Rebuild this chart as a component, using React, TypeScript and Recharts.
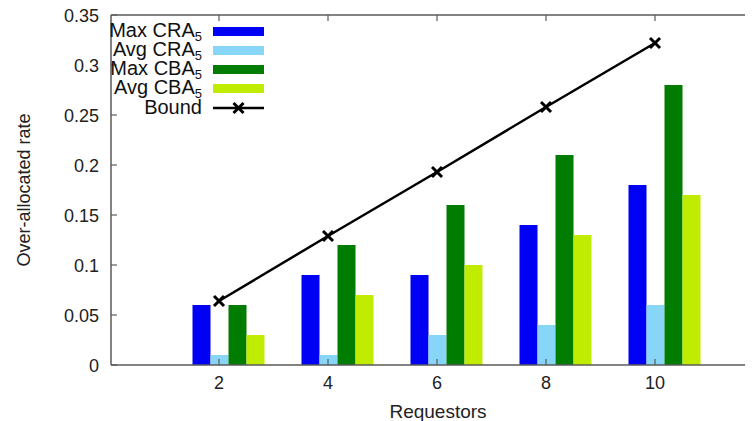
import React from 'react';
import { ComposedChart, Bar, Line, XAxis, YAxis, ReferenceLine } from 'recharts';

const requestors = ['2', '4', '6', '8', '10'];
const maxCRA = [0.06, 0.09, 0.09, 0.14, 0.18];
const avgCRA = [0.01, 0.01, 0.03, 0.04, 0.06];
const maxCBA = [0.06, 0.12, 0.16, 0.21, 0.28];
const avgCBA = [0.03, 0.07, 0.1, 0.13, 0.17];
const bound = [0.064, 0.129, 0.193, 0.258, 0.322];
const yTicks = [0, 0.05, 0.1, 0.15, 0.2, 0.25, 0.3, 0.35];

const barSeries = [
  { key: 'maxCRA', name: 'Max CRA', color: '#0000f5' },
  { key: 'avgCRA', name: 'Avg CRA', color: '#87d6f8' },
  { key: 'maxCBA', name: 'Max CBA', color: '#007d00' },
  { key: 'avgCBA', name: 'Avg CBA', color: '#bfec00' },
];

const data = requestors.map((n, i) => ({
  n,
  maxCRA: maxCRA[i],
  avgCRA: avgCRA[i],
  maxCBA: maxCBA[i],
  avgCBA: avgCBA[i],
  bound: bound[i],
}));

const FONT = '"Liberation Sans", Arial, sans-serif';
const FRAME = '#5a5a5a';
const PLOT_TOP = 7;

function Cross({ cx, cy, size = 5 }: any) {
  if (cx == null || cy == null) return null;
  return (
    <g stroke="#000" strokeWidth={3} strokeLinecap="butt">
      <line x1={cx - size} y1={cy - size} x2={cx + size} y2={cy + size} />
      <line x1={cx - size} y1={cy + size} x2={cx + size} y2={cy - size} />
    </g>
  );
}

function XTick({ x, y, payload }: any) {
  return (
    <g>
      <line x1={x} y1={y} x2={x} y2={y - 6} stroke={FRAME} strokeWidth={1.2} />
      <line x1={x} y1={PLOT_TOP} x2={x} y2={PLOT_TOP + 6} stroke={FRAME} strokeWidth={1.2} />
      <text x={x} y={y + 24} textAnchor="middle" fontSize={18} fontFamily={FONT} fill="#222">
        {payload.value}
      </text>
    </g>
  );
}

function YTick({ x, y, payload }: any) {
  return (
    <g>
      <line x1={x} y1={y} x2={x + 6} y2={y} stroke={FRAME} strokeWidth={1.2} />
      <text x={x - 12} y={y + 6.5} textAnchor="end" fontSize={18} fontFamily={FONT} fill="#222">
        {String(payload.value)}
      </text>
    </g>
  );
}

function LegendBox() {
  const row = { display: 'flex', alignItems: 'center', height: 19, lineHeight: '19px' } as const;
  return (
    <div style={{ position: 'absolute', left: 0, top: 14, fontFamily: FONT, fontSize: 20, color: '#111' }}>
      {barSeries.map((s) => (
        <div key={s.key} style={row}>
          <span style={{ width: 194, textAlign: 'right', whiteSpace: 'nowrap' }}>
            {s.name}
            <span style={{ fontSize: 13, position: 'relative', top: 4 }}>5</span>
          </span>
          <span style={{ width: 51, height: 9, marginLeft: 11, background: s.color }} />
        </div>
      ))}
      <div style={row}>
        <span style={{ width: 194, textAlign: 'right' }}>Bound</span>
        <svg width={51} height={14} style={{ marginLeft: 11 }}>
          <line x1={0} y1={7} x2={51} y2={7} stroke="#000" strokeWidth={2.5} />
          <Cross cx={25.5} cy={7} />
        </svg>
      </div>
    </div>
  );
}

export default function App() {
  return (
    <div style={{ position: 'relative', width: 745, height: 413 }}>
      <ComposedChart
        width={745}
        height={413}
        data={data}
        margin={{ top: PLOT_TOP, right: 0, bottom: 0, left: 0 }}
        barGap={0}
        barCategoryGap={18.5}
      >
        <XAxis
          xAxisId="line"
          dataKey="n"
          height={56}
          padding={{ left: 53.5, right: 43.5 }}
          axisLine={{ stroke: FRAME, strokeWidth: 1.5 }}
          tickLine={false}
          tickSize={0}
          tickMargin={0}
          tick={<XTick />}
          interval={0}
          label={{
            content: ({ viewBox }: any) => (
              <text
                x={viewBox.x + viewBox.width / 2 + 6}
                y={410}
                textAnchor="middle"
                fontSize={19}
                fontFamily={FONT}
                fill="#222"
              >
                Requestors
              </text>
            ),
          }}
        />
        <XAxis xAxisId="bars" dataKey="n" hide height={0} padding={{ left: 63, right: 34 }} />
        <YAxis
          width={103}
          domain={[0, 0.35]}
          ticks={yTicks}
          allowDataOverflow
          axisLine={{ stroke: FRAME, strokeWidth: 1.5 }}
          tickLine={false}
          tickSize={0}
          tickMargin={0}
          tick={<YTick />}
          interval={0}
          label={{
            content: ({ viewBox }: any) => {
              const cy = viewBox.y + viewBox.height / 2;
              return (
                <text
                  x={22}
                  y={cy}
                  transform={`rotate(-90, 22, ${cy})`}
                  textAnchor="middle"
                  fontSize={18}
                  fontFamily={FONT}
                  fill="#222"
                >
                  Over-allocated rate
                </text>
              );
            },
          }}
        />
        <ReferenceLine xAxisId="line" y={0.35} stroke={FRAME} strokeWidth={1.5} />
        {barSeries.map((s) => (
          <Bar
            key={s.key}
            xAxisId="bars"
            dataKey={s.key}
            name={s.name}
            fill={s.color}
            isAnimationActive={false}
          />
        ))}
        <Line
          xAxisId="line"
          dataKey="bound"
          name="Bound"
          stroke="#000"
          strokeWidth={2.5}
          dot={(p: any) => <Cross key={p.index} cx={p.cx} cy={p.cy} />}
          activeDot={false}
          isAnimationActive={false}
        />
      </ComposedChart>
      <LegendBox />
    </div>
  );
}
